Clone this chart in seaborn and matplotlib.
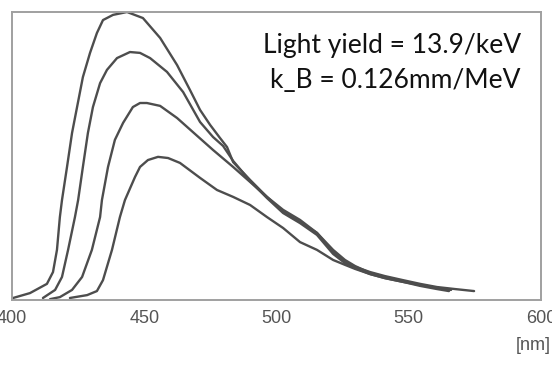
import numpy as np
import pandas as pd
import matplotlib
matplotlib.use("Agg")
import matplotlib.pyplot as plt
import seaborn as sns

# ---- data ----
x_ticks = [400, 450, 500, 550, 600]
x_unit = "[nm]"
annotation_lines = ["Light yield = 13.9/keV", "k_B = 0.126mm/MeV"]

wl_1 = [400.4, 406.8, 413.2, 415.5, 417.0, 418.1, 418.9, 420.8, 422.7, 424.6, 426.8, 429.5,
        432.1, 434.4, 438.2, 443.5, 449.5, 456.0, 462.4, 467.3, 471.1, 474.9, 478.6, 481.3,
        483.6, 490.0, 496.4, 502.5, 508.9, 515.3, 521.4, 525.9, 529.7, 535.4, 541.0, 547.8,
        554.3, 560.7, 567.5, 574.7]
int_1 = [0.007, 0.024, 0.056, 0.097, 0.174, 0.288, 0.347, 0.462, 0.580, 0.670, 0.774, 0.858,
         0.927, 0.972, 0.990, 1.000, 0.979, 0.910, 0.816, 0.729, 0.660, 0.608, 0.563, 0.531,
         0.479, 0.417, 0.358, 0.306, 0.271, 0.233, 0.167, 0.132, 0.115, 0.097, 0.083, 0.069,
         0.056, 0.045, 0.038, 0.031]

wl_2 = [411.7, 416.3, 418.9, 421.2, 423.8, 425.0, 426.8, 428.7, 430.6, 433.3, 435.9, 439.7,
        444.6, 448.4, 452.2, 458.6, 464.7, 471.1, 476.0, 479.8, 483.6, 490.0, 496.4, 502.5,
        508.9, 515.3, 521.4, 525.9, 529.7, 535.4, 541.0, 547.8, 554.3, 560.7, 564.5]
int_2 = [0.007, 0.035, 0.080, 0.174, 0.288, 0.347, 0.462, 0.580, 0.670, 0.753, 0.799, 0.840,
         0.861, 0.858, 0.840, 0.792, 0.722, 0.618, 0.566, 0.535, 0.483, 0.413, 0.354, 0.302,
         0.267, 0.226, 0.160, 0.128, 0.111, 0.090, 0.076, 0.063, 0.052, 0.042, 0.035]

wl_3 = [414.4, 418.1, 422.7, 426.5, 430.2, 433.3, 434.0, 436.3, 438.9, 442.0, 445.7, 448.4,
        451.0, 456.0, 462.4, 468.4, 476.0, 483.6, 490.0, 496.4, 502.5, 508.9, 515.3, 521.4,
        525.9, 529.7, 535.4, 541.0, 547.8, 554.3, 560.7, 566.0]
int_3 = [0.003, 0.010, 0.035, 0.080, 0.174, 0.288, 0.347, 0.462, 0.556, 0.615, 0.670, 0.684,
         0.684, 0.674, 0.632, 0.583, 0.521, 0.462, 0.410, 0.358, 0.313, 0.278, 0.233, 0.174,
         0.139, 0.118, 0.094, 0.080, 0.066, 0.052, 0.042, 0.035]

wl_4 = [421.9, 428.4, 432.1, 434.4, 437.8, 440.8, 442.7, 446.5, 448.4, 451.4, 455.2, 459.0,
        463.5, 471.1, 477.5, 483.6, 490.0, 496.4, 502.5, 508.9, 515.3, 521.4, 525.9, 529.7,
        535.4, 541.0, 547.8, 554.3, 560.7, 565.2]
int_4 = [0.007, 0.017, 0.031, 0.069, 0.174, 0.288, 0.347, 0.427, 0.462, 0.486, 0.497, 0.493,
         0.476, 0.424, 0.382, 0.358, 0.330, 0.288, 0.250, 0.201, 0.174, 0.139, 0.122, 0.108,
         0.090, 0.076, 0.063, 0.049, 0.038, 0.031]

series = {"c1": (wl_1, int_1), "c2": (wl_2, int_2), "c3": (wl_3, int_3), "c4": (wl_4, int_4)}
frames = [pd.DataFrame({"wavelength": w, "intensity": v, "curve": k}) for k, (w, v) in series.items()]
df = pd.concat(frames, ignore_index=True)

# ---- style ----
sns.set_style("white")
plt.rcParams["font.family"] = ["Liberation Sans", "DejaVu Sans"]

W, H = 552, 366
fig = plt.figure(figsize=(W / 100, H / 100), dpi=100)
ax = fig.add_axes([12 / W, 1 - 300 / H, (541 - 12) / W, (300 - 12) / H])

line_col = "#4d4d4d"
sns.lineplot(data=df, x="wavelength", y="intensity", hue="curve",
             palette=[line_col] * 4, estimator=None, sort=False,
             linewidth=1.7, legend=False, ax=ax)
for ln in ax.get_lines():
    ln.set_solid_joinstyle("round")
    ln.set_solid_capstyle("round")

ax.set_xlim(400, 600)
ax.set_ylim(0, 1.0)
ax.set_xticks(x_ticks)
ax.set_xticklabels([str(t) for t in x_ticks])
ax.set_yticks([])
ax.set_xlabel("")
ax.set_ylabel("")
ax.tick_params(axis="x", direction="in", length=3, width=1, color="#888888",
               labelsize=13, labelcolor="#555555", pad=7)
for s in ax.spines.values():
    s.set_visible(True)
    s.set_color("#a0a0a0")
    s.set_linewidth(1.4)

fig.text(551 / W, 1 - 346 / H, x_unit, ha="right", va="center",
         fontsize=13, color="#555555")

# annotation, sized to the reference width
ann_font = ["Lato", "DejaVu Sans"]
t1 = fig.text(521 / W, 1 - 45 / H, annotation_lines[0], ha="right", va="center",
              fontsize=20, color="#111111", family=ann_font)
fig.canvas.draw()
bb = t1.get_window_extent()
fs = 20 * 258 / bb.width
t1.set_fontsize(fs)
fig.text(521 / W, 1 - 81 / H, annotation_lines[1], ha="right", va="center",
         fontsize=fs, color="#111111", family=ann_font)

fig.savefig("out.png", dpi=100, facecolor="white")
